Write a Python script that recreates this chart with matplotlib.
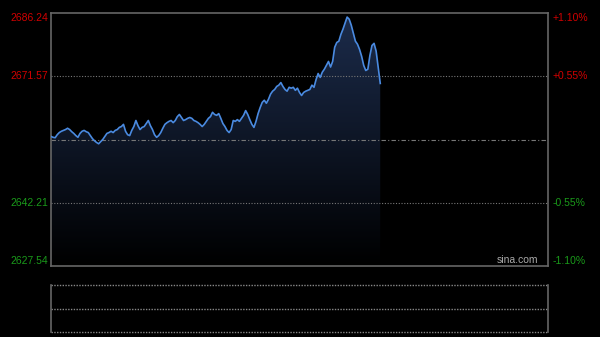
import numpy as np
import matplotlib
matplotlib.use("Agg")
import matplotlib.pyplot as plt
from matplotlib.colors import LinearSegmentedColormap
from matplotlib.patches import Polygon

prev_close = 2656.89
left_ticks = [2686.24, 2671.57, 2642.21, 2627.54]
left_labels = ["2686.24", "2671.57", "2642.21", "2627.54"]
right_labels = ["+1.10%", "+0.55%", "-0.55%", "-1.10%"]
n_slots = 241

prices = [
    2657.6, 2657.4, 2657.3, 2658.0, 2658.5, 2658.8, 2659.0, 2659.2, 2659.5, 2659.2,
    2658.7, 2658.3, 2657.8, 2657.4, 2658.3, 2658.8, 2659.0, 2658.7, 2658.5, 2657.8,
    2657.1, 2656.6, 2656.2, 2655.9, 2656.4, 2656.9, 2657.6, 2658.3, 2658.5, 2658.8,
    2658.5, 2659.0, 2659.2, 2659.7, 2659.9, 2660.4, 2658.8, 2658.0, 2657.8, 2659.0,
    2659.9, 2661.3, 2660.1, 2659.2, 2659.7, 2659.9, 2660.6, 2661.3, 2660.1, 2659.2,
    2658.0, 2657.4, 2657.8, 2658.5, 2659.5, 2660.4, 2660.8, 2661.1, 2661.3, 2660.8,
    2661.3, 2662.2, 2662.7, 2662.0, 2661.3, 2661.5, 2661.8, 2662.0, 2661.8, 2661.3,
    2661.1, 2660.8, 2660.4, 2659.9, 2660.4, 2661.1, 2661.8, 2662.2, 2663.2, 2662.7,
    2662.5, 2662.9, 2661.8, 2660.6, 2659.9, 2659.0, 2658.5, 2659.2, 2661.3, 2661.1,
    2661.5, 2661.1, 2661.8, 2662.5, 2663.6, 2662.7, 2661.5, 2660.4, 2659.7, 2661.1,
    2662.9, 2664.3, 2665.5, 2666.0, 2665.3, 2666.2, 2667.4, 2668.1, 2668.5, 2669.2,
    2669.5, 2670.1, 2669.2, 2668.5, 2668.1, 2669.0, 2668.8, 2669.0, 2668.3, 2668.8,
    2667.8, 2667.1, 2667.8, 2668.1, 2668.3, 2668.5, 2669.5, 2669.0, 2670.8, 2672.2,
    2671.3, 2672.5, 2673.2, 2674.1, 2675.0, 2673.7, 2675.0, 2678.3, 2679.4, 2679.7,
    2681.3, 2682.5, 2683.9, 2685.3, 2684.8, 2683.4, 2681.5, 2679.7, 2679.0, 2677.8,
    2676.2, 2674.1, 2672.9, 2673.2, 2676.4, 2678.7, 2679.2, 2677.4, 2673.6, 2669.9,
]

BG = "black"
fig = plt.figure(figsize=(6.0, 3.37), dpi=100, facecolor=BG)
plt.rcParams['font.family'] = ['Liberation Sans', 'DejaVu Sans']

W, H = 600.0, 337.0
def rect(l, t, r, b):
    return [l / W, 1 - b / H, (r - l) / W, (b - t) / H]

ax = fig.add_axes(rect(51, 13, 548, 266))
ax.set_facecolor(BG)
ymin, ymax = left_ticks[-1], left_ticks[0]
ax.set_xlim(0, n_slots - 1)
ax.set_ylim(ymin, ymax)

x = np.arange(len(prices))
y = np.array(prices)

# gradient fill below line
cmap = LinearSegmentedColormap.from_list("g", ["#000000", "#1c2c4c"])
grad = np.linspace(0, 1, 256).reshape(-1, 1)
im = ax.imshow(grad, aspect="auto", cmap=cmap, origin="lower",
               extent=[0, x[-1], ymin, ymax], zorder=1)
verts = np.vstack([[0, ymin], np.column_stack([x, y]), [x[-1], ymin]])
poly = Polygon(verts, closed=True, facecolor="none", edgecolor="none")
ax.add_patch(poly)
im.set_clip_path(poly)

ax.plot(x, y, color="#4a8ae0", lw=1.2, zorder=3)

# grid lines
for v in [left_ticks[1], left_ticks[2]]:
    ax.axhline(v, color="#777777", lw=0.8, ls=(0, (1, 1.5)), zorder=2)
ax.axhline(prev_close, color="#777777", lw=0.8, ls=(0, (4, 2, 1, 2)), zorder=2)

for s in ax.spines.values():
    s.set_color("#666666")
    s.set_linewidth(1.2)
ax.set_xticks([])
ax.set_yticks([])

# labels
red, green = "#d00000", "#1a9a1a"
cols = [red, red, green, green]
vas = ["top", "center", "center", "bottom"]
for v, lab, rlab, c, va in zip(left_ticks, left_labels, right_labels, cols, vas):
    ax.text(-0.006, v, lab, transform=ax.get_yaxis_transform(), ha="right",
            va=va, color=c, fontsize=7.5)
    ax.text(1.01, v, rlab, transform=ax.get_yaxis_transform(), ha="left",
            va=va, color=c, fontsize=7.5)

ax.text(0.98, 0.004, "sina.com", transform=ax.transAxes, ha="right",
        va="bottom", color="#aaaaaa", fontsize=7.5)

# bottom volume panel
ax2 = fig.add_axes(rect(51, 285, 548, 332))
ax2.set_facecolor(BG)
ax2.set_xlim(0, n_slots - 1)
ax2.set_ylim(0, 2)
for v in [0, 1, 2]:
    ax2.axhline(v, color="#888888", lw=1.0, ls=(0, (1, 1)), clip_on=False)
for k in ["top", "bottom"]:
    ax2.spines[k].set_visible(False)
for k in ["left", "right"]:
    ax2.spines[k].set_color("#666666")
    ax2.spines[k].set_linewidth(1.2)
ax2.set_xticks([])
ax2.set_yticks([])

fig.savefig("out.png", dpi=100, facecolor=BG)
